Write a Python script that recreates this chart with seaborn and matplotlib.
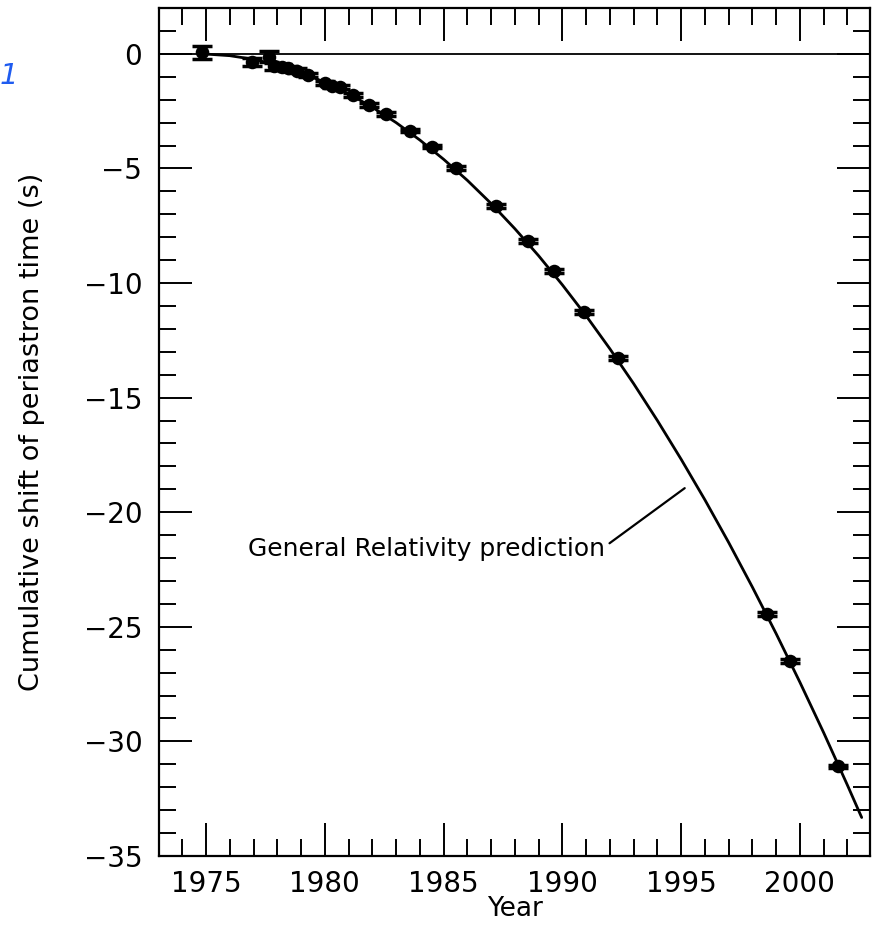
import matplotlib
matplotlib.use("Agg")
import matplotlib.pyplot as plt
from matplotlib.ticker import MultipleLocator
import seaborn as sns
import pandas as pd

# ---- data ----
curve_year = [1974.8, 1975, 1976, 1977, 1978, 1979, 1980, 1981, 1982, 1983, 1984,
              1985, 1986, 1987, 1988, 1989, 1990, 1991, 1992, 1993, 1994, 1995,
              1996, 1997, 1998, 1999, 2000, 2001, 2002, 2002.6]
curve_shift = [0.00, -0.01, -0.08, -0.24, -0.49, -0.82, -1.24, -1.74, -2.33, -3.00, -3.76,
               -4.60, -5.52, -6.53, -7.63, -8.81, -10.08, -11.43, -12.87, -14.39, -16.00, -17.69,
               -19.46, -21.32, -23.27, -25.30, -27.42, -29.62, -31.91, -33.32]

pt_year = [1974.82, 1976.93, 1977.63, 1977.84, 1978.19, 1978.47, 1978.82, 1979.31,
           1980.01, 1980.29, 1980.65, 1981.18, 1981.84, 1982.59, 1983.57, 1984.51,
           1985.53, 1987.21, 1988.54, 1989.64, 1990.90, 1992.33, 1998.60, 1999.58, 2001.62]
pt_shift = [0.06, -0.34, -0.12, -0.55, -0.58, -0.63, -0.73, -0.92,
            -1.28, -1.40, -1.46, -1.79, -2.23, -2.62, -3.35, -4.05,
            -4.98, -6.64, -8.17, -9.48, -11.25, -13.26, -24.45, -26.49, -31.09]
pt_err = [0.30, 0.17, 0.25, 0.15, 0.12, 0.10, 0.10, 0.10,
          0.08, 0.08, 0.08, 0.08, 0.08, 0.08, 0.08, 0.08,
          0.08, 0.08, 0.08, 0.08, 0.08, 0.08, 0.08, 0.08, 0.08]

x_ticks = [1975, 1980, 1985, 1990, 1995, 2000]
y_ticks = [0, -5, -10, -15, -20, -25, -30, -35]

annot_text = "General Relativity prediction"
y_label = "Cumulative shift of periastron time (s)"
x_label = "Year"

# ---- plotting ----
sns.set_style("ticks")
plt.rcParams["font.family"] = ["DejaVu Sans"]
plt.rcParams["axes.unicode_minus"] = True
plt.rcParams["text.color"] = "black"
plt.rcParams["axes.labelcolor"] = "black"
plt.rcParams["xtick.color"] = "black"
plt.rcParams["ytick.color"] = "black"

fig = plt.figure(figsize=(8.75, 9.25), dpi=100)
W, H = 875, 925
ax = fig.add_axes([159 / W, 1 - 856 / H, (870 - 159) / W, (856 - 8) / H])

curve_df = pd.DataFrame({"year": curve_year, "shift": curve_shift})
pts_df = pd.DataFrame({"year": pt_year, "shift": pt_shift, "err": pt_err})

ax.axhline(0, color="black", lw=1.3, zorder=1)
sns.lineplot(data=curve_df, x="year", y="shift", ax=ax, color="black", lw=2.0,
             sort=False, estimator=None, zorder=2)
ax.errorbar(pts_df["year"], pts_df["shift"], yerr=pts_df["err"], fmt="none",
            ecolor="black", elinewidth=2.2, capsize=7, capthick=2.5, zorder=3)
sns.scatterplot(data=pts_df, x="year", y="shift", ax=ax, color="black", s=95,
                edgecolor="black", linewidth=0, zorder=4)

ax.annotate(annot_text, xy=(1995.15, -18.95), xytext=(1991.8, -21.6),
            ha="right", va="center", fontsize=18, color="black",
            arrowprops=dict(arrowstyle="-", lw=1.6, color="black",
                            shrinkA=1, shrinkB=0, relpos=(1.0, 0.6)))

ax.set_xlim(1973.02, 2002.95)
ax.set_ylim(-35, 2.0)
ax.set_xticks(x_ticks)
ax.set_yticks(y_ticks)
ax.xaxis.set_minor_locator(MultipleLocator(1))
ax.yaxis.set_minor_locator(MultipleLocator(1))
ax.tick_params(which="both", direction="in", top=True, right=True,
               bottom=True, left=True, color="black", labelcolor="black")
ax.tick_params(which="major", length=24, width=1.4, labelsize=20, pad=12)
ax.tick_params(axis="x", which="major", pad=10)
ax.tick_params(which="minor", length=12, width=1.4)
for s in ax.spines.values():
    s.set_linewidth(1.6)
    s.set_color("black")

ax.set_xlabel(x_label, fontsize=19, labelpad=-1)
ax.set_ylabel(y_label, fontsize=19.5, labelpad=28)

fig.text(0.0, 1 - 76 / H, "1", color="#1f5cf0", fontsize=21, style="italic",
         ha="left", va="center")

fig.savefig("out.png", dpi=100)
